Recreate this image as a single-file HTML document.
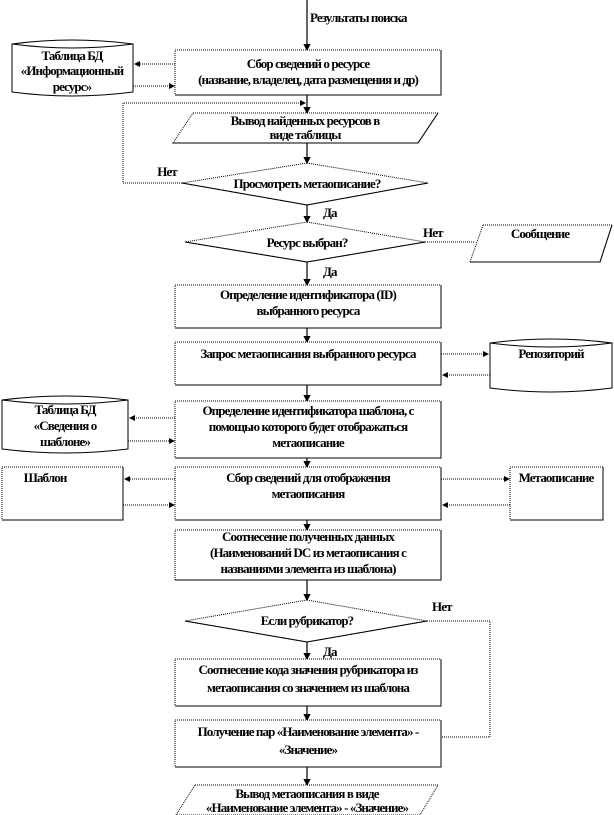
<!DOCTYPE html>
<html><head><meta charset="utf-8"><style>
html,body{margin:0;padding:0;background:#fff;}
svg{display:block;}
text{font-family:"Liberation Serif","DejaVu Serif",serif;font-weight:bold;font-size:13px;fill:#000;text-anchor:middle;letter-spacing:-0.9px;}
.l{text-anchor:start;}
.b{fill:#fff;stroke:#000;stroke-width:1;stroke-dasharray:1 1;}
.s{stroke:#000;stroke-width:1.2;fill:none;}
.d{stroke:#000;stroke-width:1;stroke-dasharray:1 1;fill:none;}
.e{stroke:#000;stroke-width:1;fill:none;}
</style></head><body>
<svg width="614" height="815" viewBox="0 0 614 815" xmlns="http://www.w3.org/2000/svg">
<defs><marker id="a" markerWidth="6" markerHeight="6" refX="5" refY="3" orient="auto"><path d="M0,0 L6,3 L0,6 z" fill="#000"/></marker></defs>

<g class="s" marker-end="url(#a)">
<line x1="307" y1="0" x2="307" y2="50"/>
<line x1="307" y1="95" x2="307" y2="113"/>
<line x1="307" y1="143" x2="307" y2="163"/>
<line x1="307" y1="205" x2="307" y2="222"/>
<line x1="307" y1="262" x2="307" y2="285"/>
<line x1="307" y1="328" x2="307" y2="342"/>
<line x1="307" y1="385" x2="307" y2="401"/>
<line x1="307" y1="458" x2="307" y2="467"/>
<line x1="307" y1="520" x2="307" y2="530"/>
<line x1="307" y1="580" x2="307" y2="600"/>
<line x1="307" y1="642" x2="307" y2="659"/>
<line x1="307" y1="706" x2="307" y2="720"/>
<line x1="307" y1="767" x2="307" y2="785"/>
</g>
<text class="l" x="310" y="22">Результаты поиска</text>

<rect class="b" x="175" y="50" width="266" height="45"/>
<polyline class="e" points="441,50 441,95 175,95"/>
<text x="308" y="68">Сбор сведений о ресурсе</text>
<text x="308" y="84">(название, владелец, дата размещения и др)</text>
<path d="M12,44 Q72,36 133,44 L133,92 Q72,100 12,92 Z" fill="#fff" stroke="#000"/>
<path d="M12,44 Q72,52 133,44" fill="none" stroke="#000"/>
<text x="72" y="60">Таблица БД</text>
<text x="72" y="75">«Информационный</text>
<text x="72" y="91">ресурс»</text>
<g class="d" marker-end="url(#a)">
<line x1="175" y1="64" x2="135" y2="64"/>
<line x1="133" y1="86" x2="174" y2="86"/>
</g>

<polyline class="d" points="182,183 123,183 123,103 305,103" marker-end="url(#a)"/>
<text x="167" y="176">Нет</text>

<polygon class="b" points="193,113 438,113 418,143 173,143"/>
<polyline class="e" points="438,113 418,143 173,143"/>
<text x="305" y="125">Вывод найденных ресурсов в</text>
<text x="305" y="139">виде таблицы</text>

<polygon class="b" points="307,163 428,183 307,205 182,183"/>
<polyline class="e" points="428,183 307,205 182,183"/>
<text x="307" y="188">Просмотреть метаописание?</text>
<text class="l" x="323" y="217">Да</text>

<polygon class="b" points="307,222 425,242 307,262 185,242"/>
<polyline class="e" points="425,242 307,262 185,242"/>
<text x="307" y="247">Ресурс выбран?</text>
<text class="l" x="423" y="237">Нет</text>
<line class="d" x1="425" y1="242" x2="475" y2="242"/>
<polygon class="b" points="483,225 612,225 600,262 470,262"/>
<polyline class="e" points="612,225 600,262 470,262"/>
<text x="540" y="238">Сообщение</text>
<text class="l" x="323" y="276">Да</text>

<rect class="b" x="175" y="285" width="266" height="43"/>
<polyline class="e" points="441,285 441,328 175,328"/>
<text x="308" y="299">Определение идентификатора (ID)</text>
<text x="308" y="315">выбранного ресурса</text>

<rect class="b" x="175" y="342" width="266" height="43"/>
<polyline class="e" points="441,342 441,385 175,385"/>
<text x="308" y="358">Запрос метаописания выбранного ресурса</text>
<path d="M490,343 Q551,335 612,343 L612,388 Q551,396 490,388 Z" fill="#fff" stroke="#000"/>
<path d="M490,343 Q551,351 612,343" fill="none" stroke="#000"/>
<text x="551" y="358">Репозиторий</text>
<g class="d" marker-end="url(#a)">
<line x1="441" y1="354" x2="488" y2="354"/>
<line x1="490" y1="375" x2="443" y2="375"/>
</g>

<rect class="b" x="175" y="401" width="266" height="57"/>
<polyline class="e" points="441,401 441,458 175,458"/>
<text x="308" y="415">Определение идентификатора шаблона, с</text>
<text x="308" y="431">помощью которого будет отображаться</text>
<text x="308" y="447">метаописание</text>
<path d="M2,400 Q65,392 128,400 L128,449 Q65,457 2,449 Z" fill="#fff" stroke="#000"/>
<path d="M2,400 Q65,408 128,400" fill="none" stroke="#000"/>
<text x="65" y="414">Таблица БД</text>
<text x="65" y="430">«Сведения о</text>
<text x="65" y="446">шаблоне»</text>
<g class="d" marker-end="url(#a)">
<line x1="175" y1="418" x2="130" y2="418"/>
<line x1="128" y1="441" x2="174" y2="441"/>
</g>

<rect class="b" x="175" y="467" width="266" height="53"/>
<polyline class="e" points="441,467 441,520 175,520"/>
<text x="308" y="482">Сбор сведений для отображения</text>
<text x="308" y="498">метаописания</text>
<rect class="b" x="2" y="467" width="121" height="53"/>
<polyline class="e" points="123,467 123,520 2,520"/>
<text x="45" y="482">Шаблон</text>
<rect class="b" x="510" y="467" width="93" height="53"/>
<polyline class="e" points="603,467 603,520 510,520"/>
<text x="556" y="482">Метаописание</text>
<g class="d" marker-end="url(#a)">
<line x1="175" y1="479" x2="125" y2="479"/>
<line x1="123" y1="505" x2="174" y2="505"/>
<line x1="441" y1="479" x2="509" y2="479"/>
<line x1="510" y1="505" x2="443" y2="505"/>
</g>

<rect class="b" x="175" y="530" width="266" height="50"/>
<polyline class="e" points="441,530 441,580 175,580"/>
<text x="308" y="541">Соотнесение полученных данных</text>
<text x="308" y="557">(Наименований DC из метаописания с</text>
<text x="308" y="573">названиями элемента из шаблона)</text>

<polygon class="b" points="307,600 427,621 307,642 185,621"/>
<polyline class="e" points="427,621 307,642 185,621"/>
<text x="307" y="625">Если рубрикатор?</text>
<text class="l" x="432" y="611">Нет</text>
<polyline class="d" points="427,621 490,621 490,737 309,737" marker-end="url(#a)"/>
<text class="l" x="323" y="656">Да</text>

<rect class="b" x="175" y="659" width="266" height="47"/>
<polyline class="e" points="441,659 441,706 175,706"/>
<text x="308" y="674">Соотнесение кода значения рубрикатора из</text>
<text x="308" y="692">метаописания со значением из шаблона</text>

<rect class="b" x="175" y="720" width="266" height="47"/>
<polyline class="e" points="441,720 441,767 175,767"/>
<text x="308" y="736">Получение пар «Наименование элемента» -</text>
<text x="308" y="754">«Значение»</text>

<polygon class="b" points="195,785 438,785 420,815 176,815"/>
<text x="307" y="798">Вывод метаописания в виде</text>
<text x="307" y="812">«Наименование элемента» - «Значение»</text>
</svg>
</body></html>
